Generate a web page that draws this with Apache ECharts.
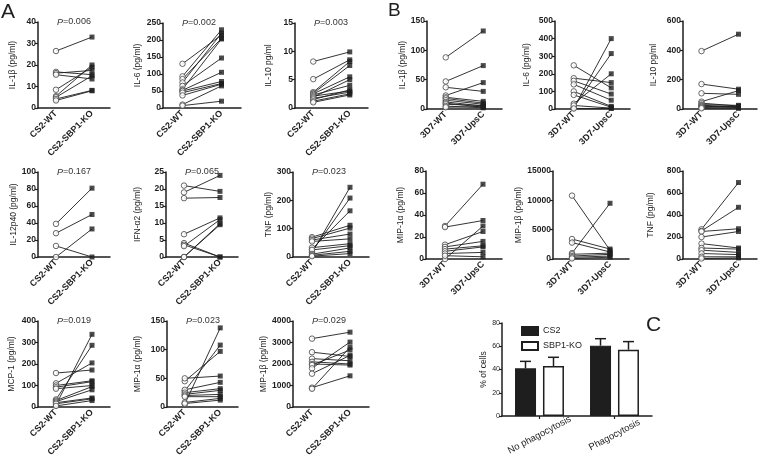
<!DOCTYPE html>
<html><head><meta charset="utf-8">
<script src="https://cdn.jsdelivr.net/npm/echarts@6/dist/echarts.min.js"></script>
<style>html,body{margin:0;padding:0;background:#fff}#c{width:758px;height:460px}</style>
</head><body><div id="c"></div>
<script>
// ---------- DATA ----------
const catsA = ['CS2-WT', 'CS2-SBP1-KO'];
const catsB = ['3D7-WT', '3D7-UpsC'];

// Panel A (WT vs SBP1-KO)
const aIL1bWT = [26.5, 16.8, 16.2, 15.5, 8.5, 5.5, 5.0, 4.2, 3.5];
const aIL1bKO = [33, 15.5, 17.5, 13.5, 19, 20, 15, 8.2, 8];
const aIL6WT = [130, 93, 85, 75, 65, 55, 52, 50, 45, 37, 10, 7];
const aIL6KO = [215, 230, 205, 220, 147, 203, 105, 78, 72, 70, 65, 20];
const aIL10WT = [8.2, 5.1, 2.8, 2.6, 2.5, 2.3, 2.1, 1.9, 1.7, 1.5, 1.2, 1.0];
const aIL10KO = [9.9, 8.5, 8.2, 7.5, 5.5, 4.0, 3.0, 5.0, 2.8, 3.2, 2.5, 2.3];
const aIL12WT = [39, 28, 13, 0];
const aIL12KO = [81, 50, 0, 33];
const aIFNWT = [21, 19, 17.3, 6.7, 4.1, 3.6, 3.2, 0, 0];
const aIFNKO = [19.3, 24, 17.5, 11.5, 0, 0, 11, 9.8, 9.5];
const aTNFWT = [15, 20, 28, 70, 65, 60, 55, 33, 25, 10, 6, 3];
const aTNFKO = [246, 208, 163, 112, 102, 81, 64, 47, 40, 32, 20, 12];
const aMCPWT = [10, 35, 110, 158, 100, 92, 85, 30, 25, 20, 15, 5];
const aMCPKO = [338, 287, 205, 172, 122, 118, 100, 95, 80, 42, 38, 30];
const aMIP1aWT = [5, 28, 45, 50, 30, 25, 22, 20, 18, 8, 6];
const aMIP1aKO = [138, 108, 97, 54, 43, 32, 29, 22, 18, 15, 12];
const aMIP1bWT = [3180, 2550, 2250, 2100, 2000, 1950, 1800, 1550, 900, 850];
const aMIP1bKO = [3480, 2350, 2150, 2000, 1950, 2650, 3020, 2400, 1450, 2780];

const aNames = ['IL-1β (pg/ml)', 'IL-6 (pg/ml)', 'IL-10 pg/ml', 'IL-12p40 (pg/ml)', 'IFN-α2 (pg/ml)', 'TNF (pg/ml)', 'MCP-1 (pg/ml)', 'MIP-1α (pg/ml)', 'MIP-1β (pg/ml)'];
const aMax = [40, 250, 15, 100, 25, 300, 400, 150, 4000];
const aStep = [10, 50, 5, 20, 5, 100, 100, 50, 1000];
const aP = ['0.006', '0.002', '0.003', '0.167', '0.065', '0.023', '0.019', '0.023', '0.029'];

// Panel B (3D7-WT vs 3D7-UpsC)
const bIL1bWT = [88, 47, 37, 23, 20, 18, 15, 12, 10, 8, 5, 3];
const bIL1bKO = [133, 74, 30, 45, 13, 10, 8, 5, 3, 6, 2, 4];
const bIL6WT = [5, 10, 30, 248, 175, 160, 140, 100, 80, 20, 3];
const bIL6KO = [400, 315, 200, 120, 150, 85, 50, 15, 10, 5, 3];
const bIL10WT = [395, 170, 107, 50, 40, 30, 25, 20, 15, 10, 5];
const bIL10KO = [510, 135, 100, 125, 20, 25, 15, 10, 18, 5, 8];
const bMIP1aWT = [30, 29, 0, 13, 11, 9, 7, 5, 3];
const bMIP1aKO = [68, 35, 30, 25, 16, 12, 11, 6, 2];
const bMIP1bWT = [10800, 1000, 3400, 2800, 800, 500, 300, 100];
const bMIP1bKO = [1500, 9500, 1700, 1200, 1000, 800, 500, 300];
const bTNFWT = [270, 255, 250, 200, 140, 100, 80, 50, 20, 5];
const bTNFKO = [695, 470, 275, 250, 100, 90, 60, 40, 20, 10];

const bNames = ['IL-1β (pg/ml)', 'IL-6 (pg/ml)', 'IL-10 pg/ml', 'MIP-1α (pg/ml)', 'MIP-1β (pg/ml)', 'TNF (pg/ml)'];
const bMax = [150, 500, 600, 80, 15000, 800];
const bStep = [50, 100, 200, 20, 5000, 200];

// Panel C
const cCats = ['No phagocytosis', 'Phagocytosis'];
const cCS2 = [41, 60.5];
const cCS2Err = [6, 6];
const cKO = [43, 57];
const cKOErr = [7.5, 7];
const cMax = 80, cStep = 20;

// ---------- LAYOUT ----------
const aGrids = [[38,22,72,86],[163,23,78,85],[295,23,73,85],[38,172,72,85],[166,172,72,85],[293,172,76,85],[38,321,72,86],[167,321,71,86],[293,321,76,86]];
const aGaps = [21,21,22,20,24,13,22,25,21];
const bGrids = [[427,21,75,88],[555,21,75,88],[683,21,74,88],[426,171,76,88],[553,171,76,88],[683,171,74,88]];
const bGaps = [19,24,25,21,24,28];
const cGrid = [502,323,150,93];

const aWT = [aIL1bWT, aIL6WT, aIL10WT, aIL12WT, aIFNWT, aTNFWT, aMCPWT, aMIP1aWT, aMIP1bWT];
const aKO = [aIL1bKO, aIL6KO, aIL10KO, aIL12KO, aIFNKO, aTNFKO, aMCPKO, aMIP1aKO, aMIP1bKO];
const bWT = [bIL1bWT, bIL6WT, bIL10WT, bMIP1aWT, bMIP1bWT, bTNFWT];
const bKO = [bIL1bKO, bIL6KO, bIL10KO, bMIP1aKO, bMIP1bKO, bTNFKO];

const FONT = '"Liberation Sans", Arial, Helvetica, sans-serif';
const INK = '#1e1e1e';
const plain = v => String(v);
const grids = [], xAxes = [], yAxes = [], series = [], graphics = [];

function addPanel(g, cats, name, gap, max, step, wt, ko) {
  const k = grids.length;
  grids.push({left: g[0], top: g[1], width: g[2], height: g[3], containLabel: false, outerBoundsMode: 'none'});
  xAxes.push({
    type: 'category', gridIndex: k, data: cats, boundaryGap: true,
    axisLine: {lineStyle: {color: INK, width: 1.5}},
    axisTick: {show: false},
    axisLabel: {rotate: 45, margin: 4, fontSize: 9, fontWeight: 'bold', color: INK, fontFamily: FONT, interval: 0}
  });
  yAxes.push({
    type: 'value', gridIndex: k, min: 0, max: max, interval: step,
    name: name, nameLocation: 'middle', nameGap: gap, nameRotate: 90,
    nameTextStyle: {fontSize: 8.5, color: INK, fontFamily: FONT},
    axisLine: {show: true, lineStyle: {color: INK, width: 1.5}},
    axisTick: {show: true, length: 3, lineStyle: {color: INK, width: 1.2}},
    axisLabel: {fontSize: 8.5, fontWeight: 'bold', color: INK, margin: 2, fontFamily: FONT, formatter: plain},
    splitLine: {show: false}
  });
  for (let i = 0; i < wt.length; i++) {
    series.push({type: 'line', xAxisIndex: k, yAxisIndex: k, data: [wt[i], ko[i]], symbol: 'none', silent: true,
      lineStyle: {color: INK, width: 0.9}, z: 1});
  }
  series.push({type: 'scatter', xAxisIndex: k, yAxisIndex: k, data: wt.map(v => [0, v]), symbol: 'circle', symbolSize: 5.5,
    itemStyle: {color: '#fff', borderColor: '#444', borderWidth: 1}, z: 3, silent: true});
  series.push({type: 'scatter', xAxisIndex: k, yAxisIndex: k, data: ko.map(v => [1, v]), symbol: 'rect', symbolSize: 5,
    itemStyle: {color: INK}, z: 3, silent: true});
}

for (let i = 0; i < 9; i++) {
  addPanel(aGrids[i], catsA, aNames[i], aGaps[i], aMax[i], aStep[i], aWT[i], aKO[i]);
  const g = aGrids[i];
  graphics.push({type: 'text', x: g[0] + 36, y: g[1], style: {
    text: '{i|P}=' + aP[i], align: 'center', verticalAlign: 'middle',
    font: '9px ' + FONT, fill: '#333',
    rich: {i: {fontStyle: 'italic', fontSize: 9, fontFamily: FONT, fill: '#333'}}
  }});
}
for (let i = 0; i < 6; i++) {
  addPanel(bGrids[i], catsB, bNames[i], bGaps[i], bMax[i], bStep[i], bWT[i], bKO[i]);
}

// Panel C
const kc = grids.length;
grids.push({left: cGrid[0], top: cGrid[1], width: cGrid[2], height: cGrid[3], containLabel: false, outerBoundsMode: 'none'});
xAxes.push({
  type: 'category', gridIndex: kc, data: cCats,
  axisLine: {lineStyle: {color: INK, width: 1.5}},
  axisTick: {show: true, alignWithLabel: true, length: 3, lineStyle: {color: INK, width: 1.2}},
  axisLabel: {rotate: 28, margin: 19, align: 'center', verticalAlign: 'middle', fontSize: 9.5, color: INK, fontFamily: FONT, interval: 0}
});
yAxes.push({
  type: 'value', gridIndex: kc, min: 0, max: cMax, interval: cStep,
  name: '% of cells', nameLocation: 'middle', nameGap: 11, nameRotate: 90,
  nameTextStyle: {fontSize: 8.5, color: INK, fontFamily: FONT},
  axisLine: {show: true, lineStyle: {color: INK, width: 1.5}},
  axisTick: {show: true, length: 3, lineStyle: {color: INK, width: 1.2}},
  axisLabel: {fontSize: 7, color: INK, margin: 2, fontFamily: FONT, formatter: plain},
  splitLine: {show: false}
});
series.push({type: 'bar', name: 'CS2', xAxisIndex: kc, yAxisIndex: kc, data: cCS2, barWidth: 21, barGap: '33%',
  itemStyle: {color: INK, borderColor: INK, borderWidth: 1.2}, z: 2});
series.push({type: 'bar', name: 'SBP1-KO', xAxisIndex: kc, yAxisIndex: kc, data: cKO, barWidth: 21, barGap: '33%',
  itemStyle: {color: '#fff', borderColor: INK, borderWidth: 1.5}, z: 2});
function errSeries(vals, errs, off) {
  return {type: 'custom', xAxisIndex: kc, yAxisIndex: kc, z: 3, silent: true,
    data: vals.map((v, i) => [i, v, errs[i]]),
    renderItem: function (params, api) {
      const p0 = api.coord([api.value(0), api.value(1)]);
      const p1 = api.coord([api.value(0), api.value(1) + api.value(2)]);
      const cx = p0[0] + off;
      const st = {stroke: INK, lineWidth: 1.5};
      return {type: 'group', children: [
        {type: 'line', shape: {x1: cx, y1: p0[1], x2: cx, y2: p1[1]}, style: st},
        {type: 'line', shape: {x1: cx - 5.5, y1: p1[1], x2: cx + 5.5, y2: p1[1]}, style: st}
      ]};
    }};
}
series.push(errSeries(cCS2, cCS2Err, -14));
series.push(errSeries(cKO, cKOErr, 14));

// panel letters
graphics.push({type: 'text', x: 1, y: 2, style: {text: 'A', font: '21px ' + FONT, fill: INK}});
graphics.push({type: 'text', x: 388, y: 1, style: {text: 'B', font: '19px ' + FONT, fill: INK}});
graphics.push({type: 'text', x: 646, y: 315, style: {text: 'C', font: '21px ' + FONT, fill: INK}});

const chart = echarts.init(document.getElementById('c'), null, {renderer: 'canvas'});
chart.setOption({
  animation: false,
  backgroundColor: '#fff',
  textStyle: {fontFamily: FONT},
  grid: grids, xAxis: xAxes, yAxis: yAxes, series: series,
  legend: {data: ['CS2', 'SBP1-KO'], orient: 'vertical', left: 516, top: 321, itemWidth: 16, itemHeight: 8, itemGap: 5,
    icon: 'rect', textStyle: {fontSize: 9, color: INK, fontFamily: FONT}, selectedMode: false},
  graphic: graphics
});
</script></body></html>
